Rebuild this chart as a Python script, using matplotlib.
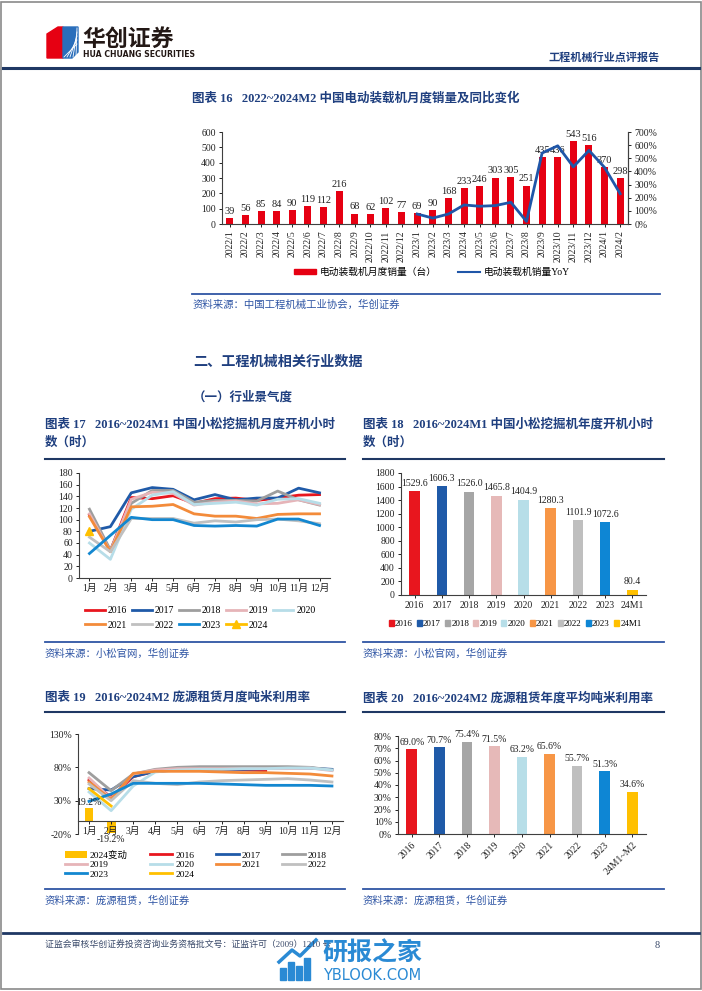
import matplotlib.pyplot as plt
from matplotlib.patches import Rectangle, Polygon, Patch
from matplotlib.lines import Line2D
from matplotlib.ticker import FuncFormatter
import numpy as np

plt.rcParams['font.family'] = ['Liberation Serif', 'Noto Sans CJK SC']
plt.rcParams['axes.unicode_minus'] = False

W, H = 702, 991
NAVY = '#1F3864'
TITLE = '#1F3F7F'
SRC = '#2F55A4'

# ---- chart 16: electric loader monthly sales ----
months16 = ['2022/1', '2022/2', '2022/3', '2022/4', '2022/5', '2022/6', '2022/7', '2022/8',
            '2022/9', '2022/10', '2022/11', '2022/12', '2023/1', '2023/2', '2023/3', '2023/4',
            '2023/5', '2023/6', '2023/7', '2023/8', '2023/9', '2023/10', '2023/11', '2023/12',
            '2024/1', '2024/2']
sales16 = [39, 56, 85, 84, 90, 119, 112, 216, 68, 62, 102, 77, 69, 90, 168, 233, 246, 303,
           305, 251, 435, 436, 543, 516, 370, 298]
yoy16 = [76, 45, 76, 145, 135, 140, 165, 20, 540, 595, 435, 560, 430, 230]  # from 2023/1

# ---- chart 17: Komatsu monthly working hours ----
months = ['1月', '2月', '3月', '4月', '5月', '6月', '7月', '8月', '9月', '10月', '11月', '12月']
hours17 = {
    '2016': [108, 47, 138, 136, 141, 128, 136, 137, 133, 137, 142, 143],
    '2017': [80, 88, 146, 155, 152, 134, 143, 134, 137, 137, 154, 146],
    '2018': [118, 48, 128, 150, 150, 130, 133, 133, 132, 149, 134, 125],
    '2019': [110, 45, 135, 147, 145, 125, 130, 132, 127, 128, 134, 126],
    '2020': [60, 32, 118, 142, 148, 126, 128, 130, 125, 135, 136, 128],
    '2021': [105, 45, 122, 123, 126, 110, 106, 106, 102, 109, 110, 110],
    '2022': [70, 45, 102, 102, 102, 94, 98, 96, 100, 101, 98, 93],
    '2023': [42, 73, 104, 100, 100, 90, 89, 90, 89, 101, 101, 90],
    '2024': [80],
}

# ---- chart 18: Komatsu yearly working hours ----
years18 = ['2016', '2017', '2018', '2019', '2020', '2021', '2022', '2023', '24M1']
hours18 = [1529.6, 1606.3, 1526.0, 1465.8, 1404.9, 1280.3, 1101.9, 1072.6, 80.4]

# ---- chart 19: Pangyuan monthly utilisation ----
util19 = {
    '2016': [61, 35, 66, 74, 76, 76, 76, 76, 75],
    '2017': [48, 46, 66, 74, 76, 77, 77, 77, 78, 79, 79, 77],
    '2018': [72, 45, 70, 77, 80, 81, 81, 81, 81, 81, 80, 76],
    '2019': [64, 33, 70, 76, 78, 78, 78, 78, 78, 78, 79, 75],
    '2020': [43, 15, 52, 73, 76, 77, 77, 78, 78, 79, 79, 76],
    '2021': [58, 32, 71, 74, 74, 74, 73, 72, 72, 71, 70, 67],
    '2022': [55, 30, 60, 56, 54, 58, 60, 61, 62, 63, 61, 58],
    '2023': [29, 40, 56, 56, 56, 56, 55, 54, 53, 53, 53, 52],
    '2024': [48, 22],
}
chg19 = [19.2, -19.2]

# ---- chart 20: Pangyuan yearly utilisation ----
years20 = ['2016', '2017', '2018', '2019', '2020', '2021', '2022', '2023', '24M1~M2']
util20 = [69.0, 70.7, 75.4, 71.5, 63.2, 65.6, 55.7, 51.3, 34.6]

year_colors = {
    '2016': '#E8161E', '2017': '#1F5AA8', '2018': '#9E9E9E', '2019': '#E6B4B8',
    '2020': '#B7DDE8', '2021': '#F38B3A', '2022': '#C0C0C0', '2023': '#1387D0',
    '2024': '#FFC000',
}
bar_colors = ['#E8161E', '#1F5AA8', '#A6A6A6', '#E6B9B8', '#B7DEE8', '#F79646',
              '#BFBFBF', '#0E86D4', '#FFC000']

fig = plt.figure(figsize=(W / 100, H / 100), dpi=100)


def box(x0, y0, x1, y1):
    return fig.add_axes([x0 / W, 1 - y1 / H, (x1 - x0) / W, (y1 - y0) / H])


def txt(x, y, s, **kw):
    fig.text(x / W, 1 - y / H, s, **kw)


def hline(x0, x1, y, color=NAVY, lw=1.5):
    fig.add_artist(Line2D([x0 / W, x1 / W], [1 - y / H, 1 - y / H], color=color, lw=lw))


def style(ax, fs=7):
    for s in ['top', 'right']:
        ax.spines[s].set_visible(False)
    for s in ['left', 'bottom']:
        ax.spines[s].set_color('#404040')
        ax.spines[s].set_linewidth(0.8)
    ax.tick_params(labelsize=fs, length=2.5, width=0.7, pad=2, colors='#222222')


# page frame
fig.add_artist(Rectangle((0.002, 0.002), 0.996, 0.996, transform=fig.transFigure,
                         fill=False, ec='#8a8a8a', lw=1.2))

# header logo
fig.add_artist(Polygon([(47 / W, 1 - 34 / H), (58 / W, 1 - 27 / H), (63 / W, 1 - 27 / H),
                        (63 / W, 1 - 58 / H), (47 / W, 1 - 58 / H)],
                       transform=fig.transFigure, color='#E60012'))
fig.add_artist(Polygon([(63 / W, 1 - 27 / H), (78 / W, 1 - 27 / H), (78 / W, 1 - 52 / H),
                        (72 / W, 1 - 58 / H), (63 / W, 1 - 58 / H)],
                       transform=fig.transFigure, color='#2A6EBB'))
for k in range(5):
    fig.add_artist(Line2D([(64 + k * 3) / W, 77 / W], [1 - 57 / H, 1 - (44 - k * 4) / H],
                          transform=fig.transFigure, color='white', lw=0.6))
txt(82, 39, '华创证券', fontsize=16.5, fontweight='bold', color='#231815',
    family='Noto Sans CJK SC', va='center')
txt(83, 55, 'HUA CHUANG SECURITIES', fontsize=5.6, fontweight='bold', color='#231815',
    family='DejaVu Sans', va='center')
txt(660, 57, '工程机械行业点评报告', fontsize=8, fontweight='bold', color=TITLE,
    ha='right', va='center')
hline(3, 699, 68, NAVY, 2.2)

# ---------------- chart 16 ----------------
txt(192, 98, '图表 16   2022~2024M2 中国电动装载机月度销量及同比变化', fontsize=9,
    fontweight='bold', color=TITLE, va='center')
ax = box(222, 132, 628, 224)
x16 = np.arange(len(months16))
ax.bar(x16, sales16, width=0.45, color='#E60012', zorder=2)
for xi, v in zip(x16, sales16):
    ax.text(xi, v + 14, str(v), ha='center', va='bottom', fontsize=7.5, color='#222222')
ax.set_xlim(-0.5, len(months16) - 0.5)
ax.set_ylim(0, 600)
ax.set_yticks(range(0, 601, 100))
ax.set_xticks(x16)
ax.set_xticklabels(months16, rotation=90)
style(ax)
ax.spines['right'].set_visible(True)
ax.spines['right'].set_color('#404040')
ax2 = ax.twinx()
ax2.plot(x16[12:], yoy16, color='#1F56A8', lw=2, zorder=3)
ax2.set_ylim(0, 700)
ax2.set_yticks(range(0, 701, 100))
ax2.yaxis.set_major_formatter(FuncFormatter(lambda v, p: f'{v:.0f}%'))
for s in ['top', 'left', 'bottom']:
    ax2.spines[s].set_visible(False)
ax2.spines['right'].set_color('#404040')
ax2.tick_params(labelsize=7, length=2.5, width=0.7, pad=2, colors='#222222')
fig.legend([Patch(color='#E60012'), Line2D([], [], color='#1F56A8', lw=1.5)],
           ['电动装载机月度销量（台）', '电动装载机销量YoY'],
           loc='center', bbox_to_anchor=(432 / W, 1 - 272 / H), ncol=2, frameon=False,
           fontsize=7, handlelength=2.2, handleheight=0.45, handletextpad=0.4,
           columnspacing=2.2)
hline(192, 660, 294, SRC, 1.3)
txt(193, 305, '资料来源：中国工程机械工业协会，华创证券', fontsize=7.5, color=SRC, va='center')

# section headings
txt(193, 362, '二、工程机械相关行业数据', fontsize=10.2, fontweight='bold', color=TITLE,
    va='center')
txt(193, 398, '（一）行业景气度', fontsize=9, fontweight='bold', color=TITLE, va='center')

# ---------------- chart 17 ----------------
txt(45, 424, '图表 17   2016~2024M1 中国小松挖掘机月度开机小时', fontsize=9,
    fontweight='bold', color=TITLE, va='center')
txt(45, 443, '数（时）', fontsize=9, fontweight='bold', color=TITLE, va='center')
hline(45, 345, 459, NAVY, 1.5)
ax = box(79, 473, 330, 578)
handles17 = {}
for yr, vals in hours17.items():
    if yr == '2024':
        h, = ax.plot(range(len(vals)), vals, color=year_colors[yr], marker='^', ms=6, lw=2)
    else:
        h, = ax.plot(range(len(vals)), vals, color=year_colors[yr], lw=2)
    handles17[yr] = h
ax.set_xlim(-0.5, 11.5)
ax.set_ylim(0, 180)
ax.set_yticks(range(0, 181, 20))
ax.set_xticks(range(12))
ax.set_xticklabels(months)
style(ax)
order17 = ['2016', '2021', '2017', '2022', '2018', '2023', '2019', '2024', '2020']
fig.legend([handles17[k] for k in order17], order17, loc='center',
           bbox_to_anchor=(200 / W, 1 - 618 / H), ncol=5, frameon=False, fontsize=7,
           handlelength=2.1, handletextpad=0.3, columnspacing=0.45, labelspacing=0.55)
hline(45, 345, 642, SRC, 1.3)
txt(45, 654, '资料来源：小松官网，华创证券', fontsize=7.5, color=SRC, va='center')

# ---------------- chart 18 ----------------
txt(363, 424, '图表 18   2016~2024M1 中国小松挖掘机年度开机小时', fontsize=9,
    fontweight='bold', color=TITLE, va='center')
txt(363, 443, '数（时）', fontsize=9, fontweight='bold', color=TITLE, va='center')
hline(363, 664, 459, NAVY, 1.5)
ax = box(401, 473, 646, 595)
x18 = np.arange(len(years18))
ax.bar(x18, hours18, width=0.39, color=bar_colors)
for xi, v in zip(x18, hours18):
    ax.text(xi, v + 50, f'{v:.1f}', ha='center', va='bottom', fontsize=7, color='#222222')
ax.set_xlim(-0.5, len(years18) - 0.5)
ax.set_ylim(0, 1800)
ax.set_yticks(range(0, 1801, 200))
ax.set_xticks(x18)
ax.set_xticklabels(years18)
ax.tick_params(axis='x', length=0)
style(ax)
fig.legend([Patch(color=c) for c in bar_colors], years18, loc='center',
           bbox_to_anchor=(515 / W, 1 - 624 / H), ncol=9, frameon=False, fontsize=6.5,
           handlelength=0.55, handleheight=0.55, handletextpad=0.15, columnspacing=0.45)
hline(363, 664, 642, SRC, 1.3)
txt(363, 654, '资料来源：小松官网，华创证券', fontsize=7.5, color=SRC, va='center')

# ---------------- chart 19 ----------------
txt(45, 698, '图表 19   2016~2024M2 庞源租赁月度吨米利用率', fontsize=9,
    fontweight='bold', color=TITLE, va='center')
hline(45, 345, 712, NAVY, 1.5)
ax = box(78, 734, 343, 834)
bar_h = ax.bar(range(len(chg19)), chg19, width=0.4, color='#FFC000', zorder=1)
ax.text(0, chg19[0] + 2, f'{chg19[0]:.1f}%', ha='center', va='bottom', fontsize=7,
        color='#222222')
ax.text(1, chg19[1] - 3, f'{chg19[1]:.1f}%', ha='center', va='top', fontsize=7,
        color='#222222')
handles19 = {'2024变动': bar_h}
for yr, vals in util19.items():
    h, = ax.plot(range(len(vals)), vals, color=year_colors[yr], lw=2, zorder=2)
    handles19[yr] = h
ax.set_xlim(-0.5, 11.5)
ax.set_ylim(-20, 130)
ax.set_yticks([-20, 30, 80, 130])
ax.yaxis.set_major_formatter(FuncFormatter(lambda v, p: f'{v:.0f}%'))
ax.set_xticks(range(12))
ax.set_xticklabels(months)
style(ax)
ax.spines['bottom'].set_position(('data', 0))
order19 = ['2024变动', '2019', '2023', '2016', '2020', '2024', '2017', '2021', '2018', '2022']
fig.legend([handles19[k] for k in order19], order19, loc='upper left',
           bbox_to_anchor=(56 / W, 1 - 842 / H), ncol=4, frameon=False, fontsize=6.8,
           handlelength=2.4, handletextpad=0.3, columnspacing=2.3, labelspacing=0.1)
hline(45, 345, 889, SRC, 1.3)
txt(45, 901, '资料来源：庞源租赁，华创证券', fontsize=7.5, color=SRC, va='center')

# ---------------- chart 20 ----------------
txt(363, 698, '图表 20   2016~2024M2 庞源租赁年度平均吨米利用率', fontsize=9,
    fontweight='bold', color=TITLE, va='center')
hline(363, 664, 712, NAVY, 1.5)
ax = box(398, 736, 646, 834)
x20 = np.arange(len(years20))
ax.bar(x20, util20, width=0.39, color=bar_colors)
for xi, v in zip(x20, util20):
    ax.text(xi, v + 2, f'{v:.1f}%', ha='center', va='bottom', fontsize=7, color='#222222',
            clip_on=False)
ax.set_xlim(-0.5, len(years20) - 0.5)
ax.set_ylim(0, 80)
ax.set_yticks(range(0, 81, 10))
ax.yaxis.set_major_formatter(FuncFormatter(lambda v, p: f'{v:.0f}%'))
ax.set_xticks(x20)
ax.set_xticklabels(years20, rotation=45, ha='right', rotation_mode='anchor')
ax.tick_params(axis='x', length=0)
style(ax)
hline(363, 664, 889, SRC, 1.3)
txt(363, 901, '资料来源：庞源租赁，华创证券', fontsize=7.5, color=SRC, va='center')

# footer
hline(3, 699, 933, NAVY, 2.0)
txt(45, 945, '证监会审核华创证券投资咨询业务资格批文号：证监许可（2009）1210 号', fontsize=6.4,
    color='#3a4a6a', va='center')
txt(660, 945, '8', fontsize=7.5, color='#3a4a6a', va='center', ha='right')
# watermark
WM = '#2A8AD4'
for k, (bx, bh) in enumerate([(280, 12), (288, 18), (296, 14), (304, 22)]):
    fig.add_artist(Rectangle((bx / W, 1 - 980 / H), 6 / W, bh / H,
                             transform=fig.transFigure, color=WM))
fig.add_artist(Line2D([279 / W, 292 / W, 300 / W, 316 / W],
                      [1 - 962 / H, 1 - 950 / H, 1 - 956 / H, 1 - 940 / H],
                      transform=fig.transFigure, color=WM, lw=2.5))
txt(322, 953, '研报之家', fontsize=18, fontweight='bold', color=WM,
    family='Noto Sans CJK SC', va='center')
txt(323, 975, 'YBLOOK.COM', fontsize=10.5, color=WM, family='DejaVu Sans', va='center')

fig.savefig('out.png', dpi=100)
